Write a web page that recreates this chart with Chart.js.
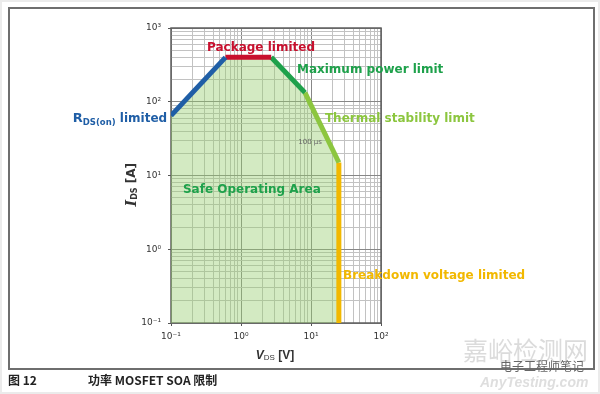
<!DOCTYPE html>
<html>
<head>
<meta charset="utf-8">
<script src="https://cdn.jsdelivr.net/npm/chart.js@4.4.0/dist/chart.umd.min.js"></script>
<style>
  html, body { margin: 0; padding: 0; background: #fff; }
  #wrap { position: relative; width: 600px; height: 394px; overflow: hidden; font-family: "Noto Sans CJK SC", "Noto Sans", sans-serif; }
  #outer { position: absolute; left: 0; top: 0; width: 596px; height: 390px; border: 2px solid #ebebeb; }
  #frame { position: absolute; left: 8px; top: 7px; width: 583px; height: 359px; border: 2px solid #6e6e6e; }
  #chart { position: absolute; left: 0; top: 0; }
  .cap { position: absolute; top: 371px; font-size: 12px; font-weight: bold; color: #222; }
  .wm { position: absolute; white-space: nowrap; }
</style>
</head>
<body>
<div id="wrap">
  <div id="outer"></div>
  <div id="frame"></div>
  <canvas id="chart" width="600" height="394"></canvas>
  <div class="cap" style="left:8px">图 12</div>
  <div class="cap" style="left:88px">功率 MOSFET SOA 限制</div>
  <div class="wm" style="left:463px; top:331px; font-size:25px; color:rgba(190,190,190,0.55)">嘉峪检测网</div>
  <div class="wm" style="left:500px; top:357px; font-size:12px; color:#666">电子工程师笔记</div>
  <div class="wm" style="left:480px; top:374px; font-size:14px; font-style:italic; font-weight:bold; color:rgba(200,200,200,0.6); font-family:'Liberation Sans',sans-serif">AnyTesting.com</div>
</div>
<script>
/* -------------------------------------------------------------------------- */
/*  data – SOA boundary                                  */
/* -------------------------------------------------------------------------- */
const boundaryV = [0.1, 0.6, 2.7, 8.2, 25, 25];      // V_DS [V]
const boundaryI = [65, 400, 400, 133, 15, 0.1];      // I_DS [A]
const limitNames = ['RDS(on) limited', 'Package limited', 'Maximum power limit',
                    'Thermal stability limit', 'Breakdown voltage limited'];

const xDecades    = [0.1, 1, 10, 100];
const yDecades    = [0.1, 1, 10, 100, 1000];
const xTickLabels = ['10⁻¹', '10⁰', '10¹', '10²'];
const yTickLabels = ['10⁻¹', '10⁰', '10¹', '10²', '10³'];
const minorSteps  = [1, 2, 3, 4, 5, 6, 7, 8, 9];

/* styles ------------------------------------------------------------------- */
const segColors = ['#1f5ea6', '#c8102e', '#1ea14b', '#8cc63f', '#f2b800'];
const FONT = '"DejaVu Sans", sans-serif';

/* helpers ------------------------------------------------------------------ */
const isDecade = v => v > 0 && Math.abs(Math.log10(v) - Math.round(Math.log10(v))) < 1e-6;
const logTicks = decades => decades.slice(0, -1)
  .flatMap(d => minorSteps.map(m => +(m * d).toPrecision(6)))
  .concat(decades.at(-1));
const decadeLabel = (decades, labels) => v =>
  isDecade(v) ? labels[Math.round(Math.log10(v) - Math.log10(decades[0]))] : '';

/* text drawn in the plot – anchors in data units --------------------------- */
const notes = [
  { runs: [['Package limited', 'bold 12px']],         v: 0.327, i: 537, color: '#c8102e', align: 'left' },
  { runs: [['Maximum power limit', 'bold 12px']],     v: 6.3,   i: 270, color: '#1ea14b', align: 'left' },
  { runs: [['Thermal stability limit', 'bold 12px']], v: 15.8,  i: 58,  color: '#8cc63f', align: 'left' },
  { runs: [['R', 'bold 13px'], ['DS(on)', 'bold 8.5px', 4], [' limited', 'bold 12px']],
                                                      v: 0.088, i: 59,  color: '#1f5ea6', align: 'right' },
  { runs: [['100 µs', '7px']],                        v: 9.7,   i: 28,  color: '#666',    align: 'center' },
  { runs: [['Safe Operating Area', 'bold 12px']],     v: 0.148, i: 6.3, color: '#1ea14b', align: 'left' },
  { runs: [['Breakdown voltage limited', 'bold 12px']], v: 28.7, i: 0.43, color: '#f2b800', align: 'left' }
];

function drawRuns(ctx, runs, x, y, align, color) {
  ctx.fillStyle = color;
  ctx.textBaseline = 'middle';
  ctx.textAlign = 'left';
  const widths = runs.map(([t, f]) => { ctx.font = `${f} ${FONT}`; return ctx.measureText(t).width; });
  const total = widths.reduce((a, b) => a + b, 0);
  let cx = align === 'right' ? x - total : align === 'center' ? x - total / 2 : x;
  runs.forEach(([t, f, dy = 0], k) => {
    ctx.font = `${f} ${FONT}`;
    ctx.fillText(t, cx, y + dy);
    cx += widths[k];
  });
}

const soaPlugin = {
  id: 'soa',
  beforeDatasetsDraw(chart) {
    const { ctx, chartArea: a } = chart;
    ctx.save();
    ctx.strokeStyle = '#5f5f5f';
    ctx.lineWidth = 1.5;
    ctx.strokeRect(a.left, a.top, a.right - a.left, a.bottom - a.top);
    ctx.restore();
  },
  afterDraw(chart) {
    const { ctx, chartArea: a, scales: { x, y } } = chart;
    ctx.save();
    notes.forEach(n => drawRuns(ctx, n.runs, x.getPixelForValue(n.v), y.getPixelForValue(n.i), n.align, n.color));

    /* axis titles */
    ctx.save();
    ctx.translate(a.left - 39, y.getPixelForValue(7.5));
    ctx.rotate(-Math.PI / 2);
    ctx.fillStyle = '#333';
    ctx.textBaseline = 'middle';
    const yt = [['I', 'italic bold 14px "DejaVu Serif"'], ['DS', 'bold 8px ' + FONT, 3], [' [A]', 'bold 12px ' + FONT]];
    const yw = yt.map(([t, f]) => { ctx.font = f; return ctx.measureText(t).width; });
    let cx = -yw.reduce((p, q) => p + q, 0) / 2;
    yt.forEach(([t, f, dy = 0], k) => { ctx.font = f; ctx.fillText(t, cx, dy); cx += yw[k]; });
    ctx.restore();

    const xt = [['V', 'italic bold 12px "Liberation Sans"'], ['DS', '8px "Liberation Sans"', 2], [' [V]', 'bold 12px "Liberation Sans"']];
    ctx.fillStyle = '#333';
    ctx.textBaseline = 'middle';
    const xw = xt.map(([t, f]) => { ctx.font = f; return ctx.measureText(t).width; });
    cx = x.getPixelForValue(3.06) - xw.reduce((p, q) => p + q, 0) / 2;
    xt.forEach(([t, f, dy = 0], k) => { ctx.font = f; ctx.fillText(t, cx, a.bottom + 33 + dy); cx += xw[k]; });
    ctx.restore();
  }
};

/* datasets ----------------------------------------------------------------- */
const segments = limitNames.map((name, k) => ({
  label: name,
  data: [{ x: boundaryV[k], y: boundaryI[k] }, { x: boundaryV[k + 1], y: boundaryI[k + 1] }],
  borderColor: segColors[k],
  borderWidth: 5,
  pointRadius: 0,
  fill: false,
  order: 1
}));

const area = {
  label: 'Safe Operating Area',
  data: boundaryV.map((v, k) => ({ x: v, y: boundaryI[k] })),
  borderWidth: 0,
  backgroundColor: 'rgba(150,205,110,0.42)',
  fill: 'start',
  pointRadius: 0,
  order: 2
};

const gridColor = c => (c.tick && isDecade(c.tick.value)) ? '#878787' : '#c2c2c2';

new Chart(document.getElementById('chart'), {
  type: 'line',
  data: { datasets: [...segments, area] },
  options: {
    responsive: false,
    animation: false,
    layout: { padding: { left: 111, top: 28, right: 219, bottom: 41 } },
    plugins: { legend: { display: false }, tooltip: { enabled: false } },
    scales: {
      x: {
        type: 'logarithmic', min: 0.1, max: 100,
        afterBuildTicks: s => { s.ticks = logTicks(xDecades).map(value => ({ value })); },
        afterFit: s => { s.height = 30; },
        border: { display: false },
        grid: { color: gridColor, lineWidth: 1, tickLength: 3,
                tickColor: c => (c.tick && isDecade(c.tick.value)) ? '#555' : 'rgba(0,0,0,0)' },
        ticks: { autoSkip: false, maxRotation: 0, padding: 5, color: '#333',
                 font: { family: 'DejaVu Sans', size: 9 },
                 callback: decadeLabel(xDecades, xTickLabels) }
      },
      y: {
        type: 'logarithmic', min: 0.1, max: 1000,
        afterBuildTicks: s => { s.ticks = logTicks(yDecades).map(value => ({ value })); },
        afterFit: s => { s.width = 60; },
        border: { display: false },
        grid: { color: gridColor, lineWidth: 1, tickLength: 3,
                tickColor: c => (c.tick && isDecade(c.tick.value)) ? '#555' : 'rgba(0,0,0,0)' },
        ticks: { autoSkip: false, padding: 7, color: '#333',
                 font: { family: 'DejaVu Sans', size: 9 },
                 callback: decadeLabel(yDecades, yTickLabels) }
      }
    }
  },
  plugins: [soaPlugin]
});
</script>
</body>
</html>
